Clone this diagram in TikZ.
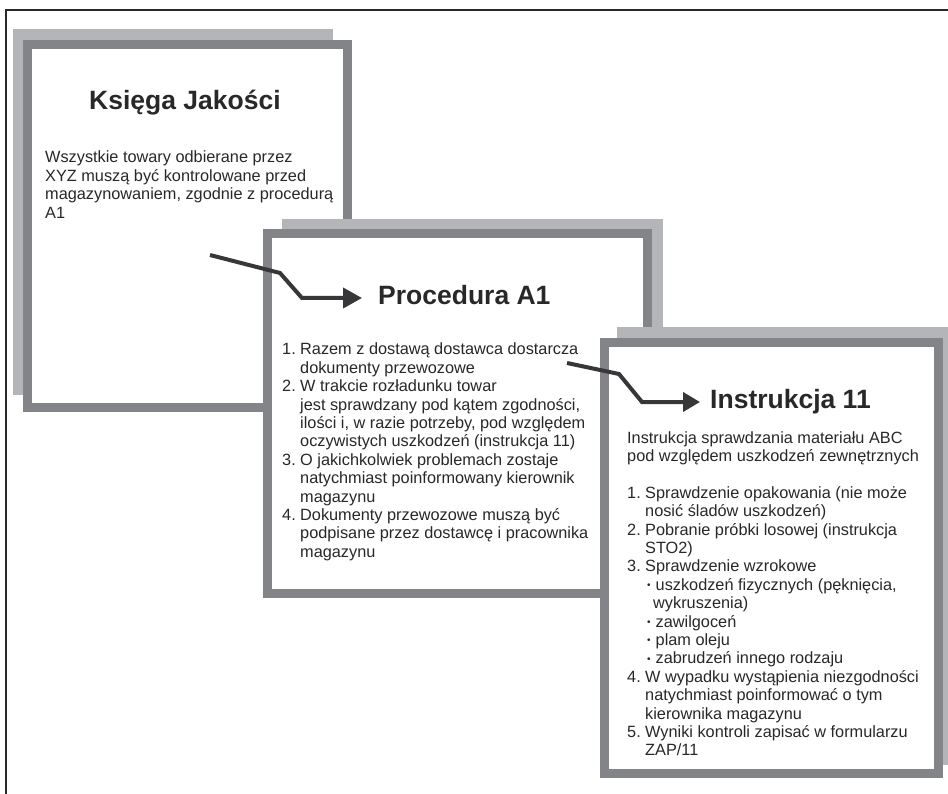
\documentclass[tikz,border=0pt]{standalone}
\usepackage{fontspec}
\setmainfont{Liberation Sans}
\usetikzlibrary{arrows.meta}

\definecolor{sheetgray}{RGB}{180,181,185}
\definecolor{framegray}{RGB}{131,132,136}
\definecolor{ink}{RGB}{40,40,40}
\definecolor{wire}{RGB}{55,55,57}

% stacked text lines, first baseline = box baseline
\newcommand\linesbox[1]{\vtop{\baselineskip=18.4pt\lineskiplimit=-20pt\lineskip=0pt #1}}
\newcommand\plainline[1]{\hbox{#1}}
\newcommand\numitem[2]{\hbox{\makebox[18pt][l]{#1}#2}}
\newcommand\contline[1]{\hbox{\hspace*{18pt}#1}}
\newcommand\smallbullet{\raisebox{1.6pt}{\fontsize{10}{10}\selectfont\textbullet}}
\newcommand\bulitem[1]{\hbox{\hspace*{20pt}\makebox[8.5pt][l]{\smallbullet}#1}}
\newcommand\bulcont[1]{\hbox{\hspace*{26pt}#1}}

\tikzset{
  sheet/.style={fill=sheetgray, draw=none, inner sep=0pt, outer sep=0pt},
  page/.style={draw=framegray, line width=9pt, fill=white, inner sep=0pt, outer sep=0pt},
  heading/.style={inner sep=0pt, text=ink, font=\fontsize{26.5}{30}\selectfont\bfseries},
  body/.style={inner sep=0pt, text=ink, font=\fontsize{16.3}{18.4}\selectfont},
  conn/.style={draw=wire, line width=4pt, line join=miter,
    -{Triangle[length=19pt,width=20pt]}},
}

\begin{document}
\begin{tikzpicture}[x=1pt,y=-1pt]
\useasboundingbox (0,0) rectangle (948,794);
\fill[white] (0,0) rectangle (948,794);

% outer page border
\coordinate (fTR) at (948,10);
\coordinate (fTL) at (6,10);
\coordinate (fBL) at (6,794);
\draw[ink, line width=1.5pt] (fTR) -- (fTL) -- (fBL);

% --- Ksiega Jakosci ---
\node[sheet, minimum width=320pt, minimum height=366pt] (s1) at (173,212) {};
\node[page, minimum width=320pt, minimum height=363pt] (b1) at (187.5,226) {};
\node[heading, anchor=base] (t1) at (185,110) {Księga Jakości};
\node[body, anchor=base west] (x1) at (45,163) {\linesbox{%
  \plainline{Wszystkie towary odbierane przez}
  \plainline{XYZ muszą być kontrolowane przed}
  \plainline{magazynowaniem, zgodnie z procedurą}
  \plainline{A1}}};

% --- Procedura A1 ---
\node[sheet, minimum width=381pt, minimum height=371pt] (s2) at (472.5,404.5) {};
\node[page, minimum width=380pt, minimum height=360pt] (b2) at (457.5,413.5) {};
\node[heading, anchor=base west] (t2) at (378,305) {Procedura A1};
\node[body, anchor=base west] (x2) at (282,355) {\linesbox{%
  \numitem{1.}{Razem z dostawą dostawca dostarcza}
  \contline{dokumenty przewozowe}
  \numitem{2.}{W trakcie rozładunku towar}
  \contline{jest sprawdzany pod kątem zgodności,}
  \contline{ilości i, w razie potrzeby, pod względem}
  \contline{oczywistych uszkodzeń (instrukcja 11)}
  \numitem{3.}{O jakichkolwiek problemach zostaje}
  \contline{natychmiast poinformowany kierownik}
  \contline{magazynu}
  \numitem{4.}{Dokumenty przewozowe muszą być}
  \contline{podpisane przez dostawcę i pracownika}
  \contline{magazynu}}};

% connector: Ksiega -> Procedura
\coordinate (a1s) at (210,255);
\coordinate (a1b) at (280,273);
\coordinate (a1c) at (302,298);
\coordinate (a1e) at (362,298);
\draw[conn] (a1s) -- (a1b) -- (a1c) -- (a1e);

% --- Instrukcja 11 ---
\node[sheet, minimum width=331pt, minimum height=438pt] (s3) at (782.5,546) {};
\node[page, minimum width=334pt, minimum height=431pt] (b3) at (771.5,558) {};
\node[heading, anchor=base west] (t3) at (710,408) {Instrukcja 11};
\node[body, anchor=base west] (x3) at (627,443) {\linesbox{%
  \plainline{Instrukcja sprawdzania materiału ABC}
  \plainline{pod względem uszkodzeń zewnętrznych}
  \plainline{}
  \numitem{1.}{Sprawdzenie opakowania (nie może}
  \contline{nosić śladów uszkodzeń)}
  \numitem{2.}{Pobranie próbki losowej (instrukcja}
  \contline{STO2)}
  \numitem{3.}{Sprawdzenie wzrokowe}
  \bulitem{uszkodzeń fizycznych (pęknięcia,}
  \bulcont{wykruszenia)}
  \bulitem{zawilgoceń}
  \bulitem{plam oleju}
  \bulitem{zabrudzeń innego rodzaju}
  \numitem{4.}{W wypadku wystąpienia niezgodności}
  \contline{natychmiast poinformować o tym}
  \contline{kierownika magazynu}
  \numitem{5.}{Wyniki kontroli zapisać w formularzu}
  \contline{ZAP/11}}};

% connector: Procedura -> Instrukcja
\coordinate (a2s) at (567,363);
\coordinate (a2b) at (619,374);
\coordinate (a2c) at (642,402);
\coordinate (a2e) at (700,402);
\draw[conn, -{Triangle[length=17pt,width=19pt]}] (a2s) -- (a2b) -- (a2c) -- (a2e);
\end{tikzpicture}
\end{document}
